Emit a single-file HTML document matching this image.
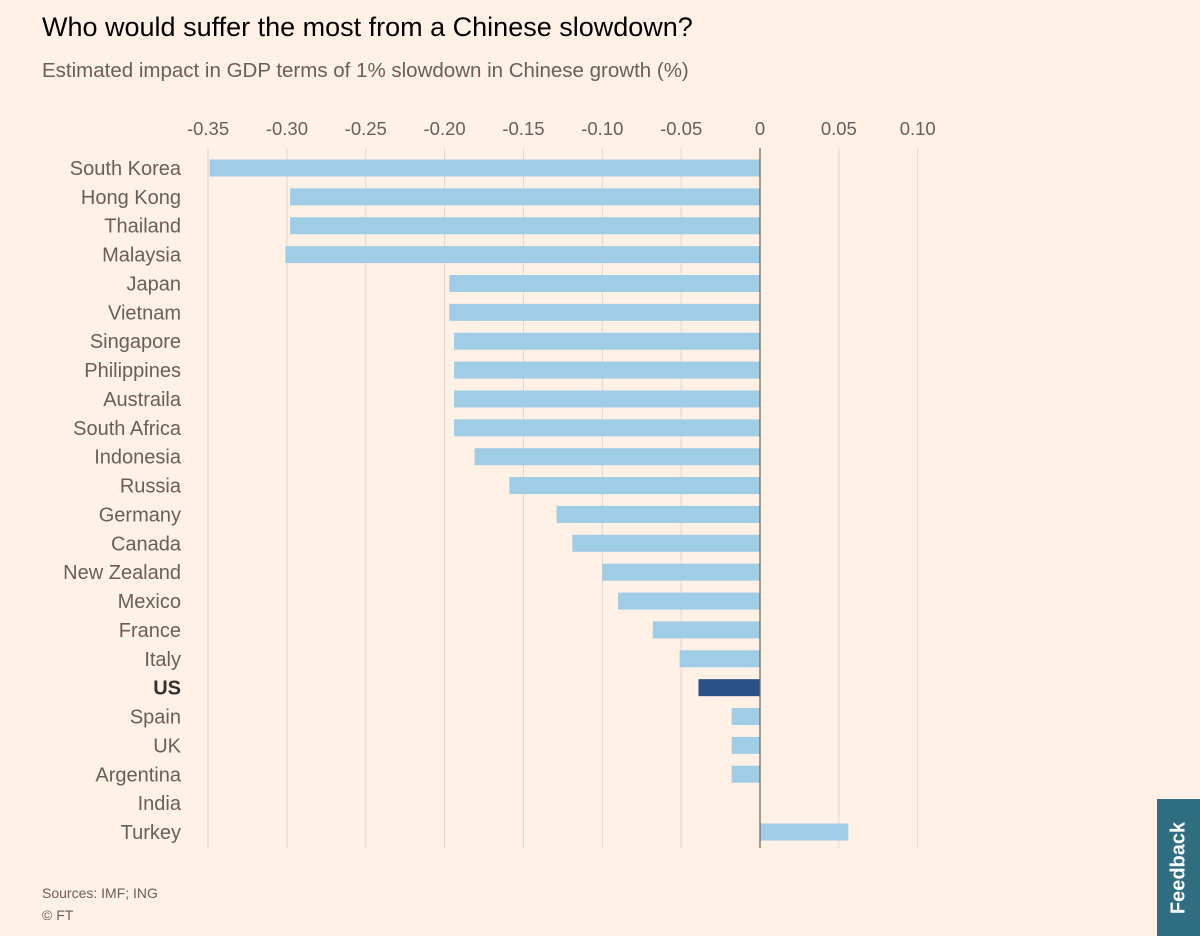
<!DOCTYPE html>
<html><head><meta charset="utf-8"><style>
body{margin:0;width:1200px;height:936px;background:#fff1e5;font-family:"Liberation Sans",sans-serif;position:relative;overflow:hidden;color:#33302e}
#title{position:absolute;left:42px;top:12px;font-size:27px;color:#000}
#sub{position:absolute;left:42px;top:59px;font-size:20.5px;color:#66605c}
#src{position:absolute;left:42px;top:882px;font-size:14px;color:#66605c;line-height:22px}
#fb{position:absolute;left:1157px;top:799px;width:43px;height:137px;background:#2f6e80;color:#fff;font-weight:bold;font-size:20px}
#fb span{position:absolute;left:50%;top:50%;transform:translate(-50%,-50%) rotate(-90deg);white-space:nowrap}
svg{position:absolute;left:0;top:0}
</style></head><body>
<div id="title">Who would suffer the most from a Chinese slowdown?</div>
<div id="sub">Estimated impact in GDP terms of 1% slowdown in Chinese growth (%)</div>
<svg id="chart" width="1200" height="936"></svg>
<div id="src">Sources: IMF; ING<br>© FT</div>
<div id="fb"><span>Feedback</span></div>
<script>
const categories=["South Korea","Hong Kong","Thailand","Malaysia","Japan","Vietnam","Singapore","Philippines","Austraila","South Africa","Indonesia","Russia","Germany","Canada","New Zealand","Mexico","France","Italy","US","Spain","UK","Argentina","India","Turkey"];
const values=[-0.349,-0.298,-0.298,-0.301,-0.197,-0.197,-0.194,-0.194,-0.194,-0.194,-0.181,-0.159,-0.129,-0.119,-0.1,-0.09,-0.068,-0.051,-0.039,-0.018,-0.018,-0.018,0,0.056];
const ticks=[-0.35,-0.30,-0.25,-0.20,-0.15,-0.10,-0.05,0,0.05,0.10];
const tickLabels=["-0.35","-0.30","-0.25","-0.20","-0.15","-0.10","-0.05","0","0.05","0.10"];
const highlight="US";
const svg=document.getElementById('chart');const NS="http://www.w3.org/2000/svg";
const x=v=>760+v*1577;
const y=i=>168+i*28.87;
function mk(t,a){const e=document.createElementNS(NS,t);for(const k in a)e.setAttribute(k,a[k]);svg.appendChild(e);return e;}
ticks.forEach((t,i)=>{
 const g=mk('line',{x1:x(t),x2:x(t),y1:148,y2:848,stroke:t===0?'#66605c':'#e0d6cc','stroke-width':t===0?1.2:1});
 
 
 const l=mk('text',{x:x(t),y:135,'text-anchor':'middle','font-size':18.5,fill:'#66605c'});l.textContent=tickLabels[i];
 
 
});
categories.forEach((c,i)=>{
 const v=values[i];
 const r=mk('rect',{x:Math.min(x(v),x(0)),y:y(i)-8.5,width:Math.abs(x(v)-x(0)),height:17,fill:c===highlight?'#2a5289':'#9fcde6'});
 
 
 const t=mk('text',{x:181,y:y(i)+7,'text-anchor':'end','font-size':20,fill:c===highlight?'#33302e':'#66605c','font-weight':c===highlight?'bold':'normal'});t.textContent=c;
 
 
});
svg.appendChild(svg.querySelectorAll('line')[7]);
</script>
</body></html>
